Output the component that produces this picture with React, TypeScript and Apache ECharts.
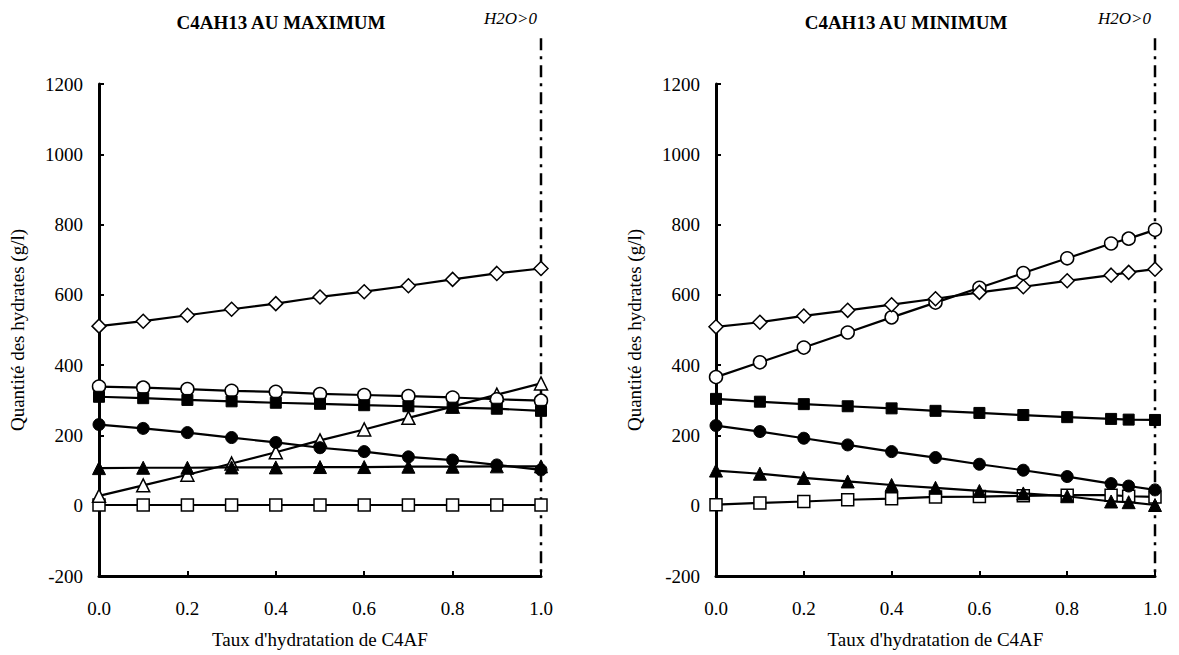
import React, { useEffect, useRef } from "react";
import * as echarts from "echarts";

const X_LEFT = [0, 0.1, 0.2, 0.3, 0.4, 0.5, 0.6, 0.7, 0.8, 0.9, 1.0];
const X_RIGHT = [0, 0.1, 0.2, 0.3, 0.4, 0.5, 0.6, 0.7, 0.8, 0.9, 0.94, 1.0];

// C4AH13 AU MAXIMUM
const maxDiamond = [511, 525, 542, 559, 575, 594, 609, 626, 644, 661, 675];
const maxOpenCircle = [339, 336, 332, 327, 324, 318, 315, 312, 308, 303, 299];
const maxFilledSquare = [310, 306, 301, 297, 293, 290, 286, 283, 279, 276, 270];
const maxFilledCircle = [231, 220, 208, 194, 180, 165, 154, 139, 130, 116, 102];
const maxFilledTriangle = [107, 108, 108, 109, 109, 110, 110, 111, 111, 112, 112];
const maxOpenTriangle = [28, 58, 88, 120, 152, 186, 217, 250, 282, 316, 348];
const maxOpenSquare = [2, 2, 2, 2, 2, 2, 2, 2, 2, 2, 2];

// C4AH13 AU MINIMUM
const minDiamond = [509, 522, 540, 556, 572, 589, 607, 623, 640, 656, 664, 673];
const minOpenCircle = [366, 408, 450, 493, 536, 578, 620, 662, 704, 746, 760, 785];
const minFilledSquare = [304, 296, 289, 283, 277, 270, 264, 258, 252, 247, 245, 244];
const minFilledCircle = [228, 211, 192, 173, 154, 137, 118, 101, 83, 63, 56, 45];
const minFilledTriangle = [100, 91, 79, 69, 59, 51, 42, 35, 27, 12, 10, 2];
const minOpenSquare = [3, 8, 12, 17, 20, 25, 26, 28, 30, 30, 27, 25];

const Y_TICKS = [-200, 0, 200, 400, 600, 800, 1000, 1200];
const X_TICKS = [0, 0.2, 0.4, 0.6, 0.8, 1.0];
const LIMIT_X = 1.0;
const LIMIT_TOP = 1330;

const TITLE_LEFT = "C4AH13 AU MAXIMUM";
const TITLE_RIGHT = "C4AH13 AU MINIMUM";
const Y_NAME = "Quantité des hydrates (g/l)";
const X_NAME = "Taux d'hydratation de C4AF";
const LIMIT_LABEL = "H2O>0";

const FONT = "Liberation Serif";

export default function App() {
  const ref = useRef<HTMLDivElement>(null);

  useEffect(() => {
    if (!ref.current) return;
    const chart = echarts.init(ref.current, null, { renderer: "svg" });

    const pairs = (xs: number[], ys: number[]) => xs.map((x, i) => [x, ys[i]]);

    const open = { color: "#ffffff", borderColor: "#000000", borderWidth: 1.5 };
    const filled = { color: "#000000", borderColor: "#000000", borderWidth: 1 };

    const mkSeries = (
      name: string,
      idx: number,
      xs: number[],
      ys: number[],
      symbol: string,
      size: number,
      style: any,
      z: number
    ) => ({
      name,
      type: "line",
      xAxisIndex: idx,
      yAxisIndex: idx,
      data: pairs(xs, ys),
      symbol,
      symbolSize: size,
      showSymbol: true,
      lineStyle: { color: "#000", width: 2.2 },
      itemStyle: style,
      z,
    });

    const xAxis = (idx: number) => ({
      type: "value",
      gridIndex: idx,
      min: 0,
      max: 1,
      interval: 0.2,
      name: X_NAME,
      nameLocation: "middle",
      nameGap: 54,
      nameTextStyle: { fontFamily: FONT, fontSize: 19, color: "#000" },
      axisLine: { show: true, onZero: false, lineStyle: { color: "#000", width: 3 } },
      axisTick: { show: true, inside: true, length: 5, lineStyle: { color: "#000", width: 2 } },
      axisLabel: {
        fontFamily: FONT,
        fontSize: 19,
        color: "#000",
        margin: 23,
        formatter: (v: number) => (X_TICKS.some((t) => Math.abs(t - v) < 1e-9) ? v.toFixed(1) : ""),
      },
      splitLine: { show: false },
    });

    const yAxis = (idx: number) => ({
      type: "value",
      gridIndex: idx,
      min: Y_TICKS[0],
      max: Y_TICKS[Y_TICKS.length - 1],
      interval: 200,
      name: Y_NAME,
      nameLocation: "middle",
      nameGap: 72,
      nameTextStyle: { fontFamily: FONT, fontSize: 19, color: "#000" },
      axisLine: { show: true, onZero: false, lineStyle: { color: "#000", width: 3 } },
      axisTick: { show: true, inside: true, length: 5, lineStyle: { color: "#000", width: 2 } },
      axisLabel: {
        fontFamily: FONT,
        fontSize: 19,
        color: "#000",
        margin: 16,
        formatter: (v: number) => String(v),
      },
      splitLine: { show: false },
    });

    const titleText = (x: number, text: string) => ({
      type: "text",
      x,
      y: 22,
      style: {
        text,
        fontFamily: FONT,
        fontWeight: "bold",
        fontSize: 19,
        fill: "#000",
        textAlign: "center",
        textVerticalAlign: "middle",
      },
    });

    chart.setOption({
      animation: false,
      backgroundColor: "#ffffff",
      grid: [
        { left: 99, top: 84, width: 442, height: 492 },
        { left: 716, top: 84, width: 439, height: 492 },
      ],
      xAxis: [xAxis(0), xAxis(1)],
      yAxis: [yAxis(0), yAxis(1)],
      series: [
        mkSeries("open square", 0, X_LEFT, maxOpenSquare, "rect", 12, open, 2),
        mkSeries("open triangle", 0, X_LEFT, maxOpenTriangle, "triangle", 13, open, 3),
        mkSeries("open circle", 0, X_LEFT, maxOpenCircle, "circle", 13, open, 4),
        mkSeries("diamond", 0, X_LEFT, maxDiamond, "diamond", 14, open, 5),
        mkSeries("filled triangle", 0, X_LEFT, maxFilledTriangle, "triangle", 13, filled, 6),
        mkSeries("filled circle", 0, X_LEFT, maxFilledCircle, "circle", 12, filled, 7),
        mkSeries("filled square", 0, X_LEFT, maxFilledSquare, "rect", 11, filled, 8),

        mkSeries("open square", 1, X_RIGHT, minOpenSquare, "rect", 12, open, 2),
        mkSeries("open circle", 1, X_RIGHT, minOpenCircle, "circle", 13, open, 4),
        mkSeries("diamond", 1, X_RIGHT, minDiamond, "diamond", 14, open, 5),
        mkSeries("filled triangle", 1, X_RIGHT, minFilledTriangle, "triangle", 13, filled, 6),
        mkSeries("filled circle", 1, X_RIGHT, minFilledCircle, "circle", 12, filled, 7),
        mkSeries("filled square", 1, X_RIGHT, minFilledSquare, "rect", 11, filled, 8),
      ],
    });

    // Dash-dot limit line at x = 1.0 and its "H2O>0" label, positioned via the axes
    const extras: any[] = [];
    [0, 1].forEach((gi) => {
      const top = chart.convertToPixel({ gridIndex: gi }, [LIMIT_X, LIMIT_TOP]) as number[];
      const bottom = chart.convertToPixel({ gridIndex: gi }, [LIMIT_X, Y_TICKS[0]]) as number[];
      extras.push({
        type: "line",
        z: 1,
        shape: { x1: top[0], y1: top[1], x2: bottom[0], y2: bottom[1] },
        style: { stroke: "#000", lineWidth: 2.5, lineDash: [12, 6, 3, 6] },
        silent: true,
      });
      extras.push({
        type: "text",
        x: top[0] - 4,
        y: top[1] - 20,
        style: {
          text: LIMIT_LABEL,
          fontFamily: FONT,
          fontStyle: "italic",
          fontSize: 17,
          fill: "#000",
          textAlign: "right",
          textVerticalAlign: "middle",
        },
      });
    });
    chart.setOption({
      graphic: [titleText(281, TITLE_LEFT), titleText(906, TITLE_RIGHT), ...extras],
    });

    return () => chart.dispose();
  }, []);

  return (
    <div
      ref={ref}
      style={{ position: "fixed", left: 0, top: 0, width: 1179, height: 655, background: "#fff" }}
    />
  );
}
